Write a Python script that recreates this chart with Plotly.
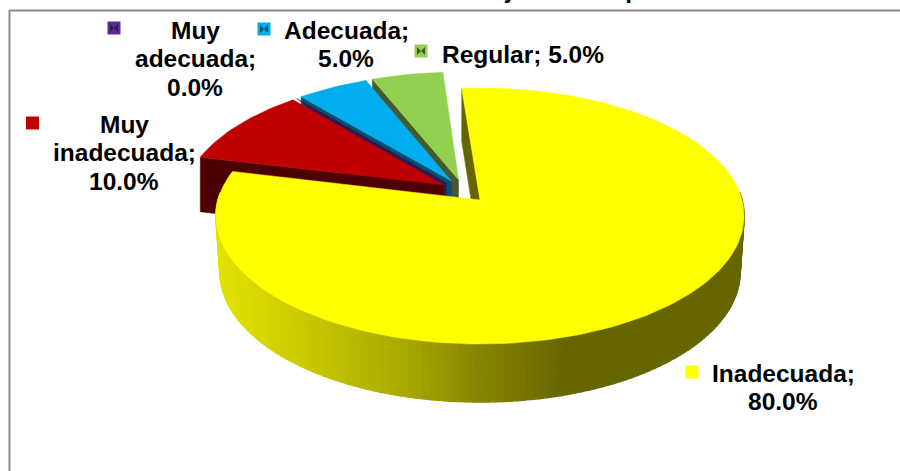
import math
import plotly.graph_objects as go

# ---- data ----
categories = ["Inadecuada", "Muy inadecuada", "Muy adecuada", "Adecuada", "Regular"]
values = [80.0, 10.0, 0.0, 5.0, 5.0]
label_lines = [["Inadecuada;"], ["Muy", "inadecuada;"], ["Muy", "adecuada;"], ["Adecuada;"], None]
top_colors = ["#FFFF00", "#C00000", "#5B2D8E", "#00AEEF", "#92D050"]
wall_colors = ["#666600", "#4D0000", "#2B1A55", "#0D4F6B", "#46592A"]
title_text = "Evaluación del manejo de la hepatitis"

# ---- pie geometry ----
FIRST_ANGLE = -4.5
PULL = 0.095
CX, CY = 480.0, 200.0
RX, BY = 262.0, 126.0
K = 0.125


def project(X, Y):
    w = 1 + K * Y
    return CX + RX * X / w, CY - BY * Y / w


def depth(Y):
    w = 1 + K * Y
    return 58 - 20 * (w - 0.875)


total = sum(values)
spans = []
a = FIRST_ANGLE
for v in values:
    b = a + 360 * v / total
    spans.append((a, b))
    a = b

mid0 = math.radians(sum(spans[0]) / 2)
ox, oy = -PULL * math.sin(mid0), -PULL * math.cos(mid0)


def apex(i):
    m = math.radians(sum(spans[i]) / 2)
    return ox + PULL * math.sin(m), oy + PULL * math.cos(m)


def rim(i, deg):
    ax, ay = apex(i)
    t = math.radians(deg)
    return ax + math.sin(t), ay + math.cos(t)


def arc(i, n=None):
    a0, a1 = spans[i]
    n = n or max(2, int((a1 - a0) / 1.5))
    return [rim(i, a0 + (a1 - a0) * j / n) for j in range(n + 1)]


fig = go.Figure()


def add_fill(xs, ys, color, lw=0.5):
    fig.add_trace(go.Scatter(x=xs + xs[:1], y=ys + ys[:1], mode="lines", fill="toself",
                             fillcolor=color, line=dict(color=color, width=lw),
                             hoverinfo="skip", showlegend=False))


def add_wall(p, q, color):
    px, py = project(*p)
    qx, qy = project(*q)
    add_fill([px, qx, qx, px], [py, qy, qy + depth(q[1]), py + depth(p[1])], color)


def side_color(x):
    stops = [(216, (226, 226, 0)), (300, (202, 202, 0)), (400, (170, 170, 0)),
             (480, (133, 133, 0)), (565, (102, 102, 0)), (900, (102, 102, 0))]
    for (x0, c0), (x1, c1) in zip(stops, stops[1:]):
        if x <= x1:
            f = max(0.0, (x - x0) / (x1 - x0))
            return "rgb(%d,%d,%d)" % tuple(round(c0[k] + (c1[k] - c0[k]) * f) for k in range(3))
    return "rgb(102,102,0)"


def shrink(x):
    return CX + (x - CX) * 0.985


def add_slice(i):
    ap = apex(i)
    pts = arc(i)
    add_wall(pts[0], ap, wall_colors[i])
    xy = [project(*p) for p in [ap] + pts]
    add_fill([c[0] for c in xy], [c[1] for c in xy], top_colors[i])


# back-to-front painter's order
add_slice(4)
add_slice(3)
# zero-size slice: only its wall shows
ap2 = apex(2)
p2 = rim(2, spans[2][0])
px, py = project(*p2)
qx, qy = project(*ap2)
add_fill([px - 1.5, qx - 2.0, qx - 2.0, px - 1.5 + 6],
         [py + 1.0, qy + 0.5, qy + depth(ap2[1]), py + 5.0], wall_colors[2])
add_slice(1)

# big slice: wall, shaded outer side, then the top
y_ap = apex(0)
y_pts = arc(0, 200)
add_wall(y_pts[0], y_ap, wall_colors[0])
for p, q in zip(y_pts, y_pts[1:]):
    if p[1] > 0.05 and q[1] > 0.05:
        continue
    px, py = project(*p)
    qx, qy = project(*q)
    add_fill([px, qx, shrink(qx), shrink(px)],
             [py, qy, qy + depth(q[1]), py + depth(p[1])], side_color((px + qx) / 2), lw=1.5)
xy = [project(*p) for p in [y_ap] + y_pts]
add_fill([c[0] for c in xy], [c[1] for c in xy], top_colors[0])

# ---- data labels ----
LINE = 28.5
FS = 24.5


def add_lines(lines, cx, first_y):
    for n, t in enumerate(lines):
        fig.add_annotation(x=cx, y=first_y + n * LINE, xref="x", yref="y", text="<b>%s</b>" % t,
                           showarrow=False, xanchor="center", yanchor="middle",
                           font=dict(family="Liberation Sans", size=FS, color="#000000"))


def pct(i):
    return "%.1f%%" % values[i]


add_lines(label_lines[0] + [pct(0)], 783, 373)
add_lines(label_lines[1] + [pct(1)], 124, 124)
add_lines(label_lines[2] + [pct(2)], 195, 30)
add_lines(label_lines[3] + [pct(3)], 346, 30)
add_lines(["%s; %s" % (categories[4], pct(4))], 523, 54)

# legend keys inside the labels
key_x = [692, 32.5, 114, 264, 421]
key_y = [372, 123, 28, 29, 51]
fig.add_trace(go.Scatter(x=key_x, y=key_y, mode="markers", hoverinfo="skip", showlegend=False,
                         marker=dict(symbol="square", size=13, color=top_colors,
                                     line=dict(width=0))))
fig.add_trace(go.Scatter(x=key_x[2:], y=key_y[2:], mode="markers", hoverinfo="skip", showlegend=False,
                         marker=dict(symbol="bowtie", size=8, color=wall_colors[2:],
                                     line=dict(width=0))))

# title, cropped by the top of the page in the reference
fig.add_annotation(x=0.533, y=1.0, xref="paper", yref="paper", yshift=-5.5, text="<b>%s</b>" % title_text,
                   showarrow=False, xanchor="center", yanchor="bottom",
                   font=dict(family="Liberation Sans", size=FS, color="#000000"))

frame = "#8C8C8C"
fig.update_layout(
    width=900, height=471, margin=dict(l=0, r=0, t=0, b=0),
    paper_bgcolor="#FFFFFF", plot_bgcolor="#FFFFFF", showlegend=False,
    xaxis=dict(range=[0, 900], visible=False, fixedrange=True),
    yaxis=dict(range=[471, 0], visible=False, fixedrange=True),
    shapes=[
        dict(type="line", xref="x", yref="y", x0=9, x1=900, y0=10.5, y1=10.5, line=dict(color=frame, width=2)),
        dict(type="line", xref="x", yref="y", x0=9.5, x1=9.5, y0=10, y1=471, line=dict(color=frame, width=2)),
    ],
)
fig.write_html("out.html", config={"displayModeBar": False},
               post_script="document.body.style.margin='0';document.body.style.overflow='hidden';")
